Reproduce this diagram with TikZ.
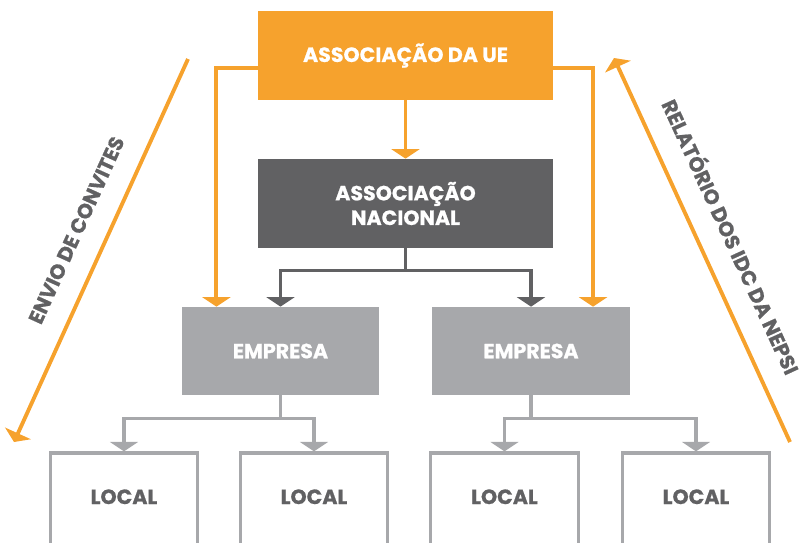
\documentclass[tikz,border=0pt]{standalone}
\usepackage{fontspec}
\setmainfont{Poppins}[BoldFeatures={FakeBold=0.8}]
\usetikzlibrary{arrows.meta,calc}

\definecolor{ueorange}{HTML}{F6A22D}
\definecolor{nacgrey}{HTML}{616163}
\definecolor{empgrey}{HTML}{A7A8AB}

\begin{document}
\begin{tikzpicture}[x=0.02cm, y=-0.02cm,
    box/.style={rectangle, inner sep=0pt, align=center, font=\bfseries\fontsize{11.7}{14}\selectfont},
    uebox/.style={box, fill=ueorange, text=white, minimum width=5.9cm, minimum height=1.78cm},
    nacbox/.style={box, fill=nacgrey, text=white, minimum width=5.9cm, minimum height=1.78cm},
    empbox/.style={box, fill=empgrey, text=white, minimum width=3.95cm, minimum height=1.76cm},
    localbox/.style={box, draw=empgrey, line width=1.9pt, fill=white, text=nacgrey,
      minimum width=2.95cm, minimum height=2.2cm, text height=0.3cm, text depth=0.46cm},
    tip/.style={-{Triangle[width=0.56cm, length=0.19cm]}},
    oarr/.style={tip, draw=ueorange, line width=2.2pt},
    darr/.style={tip, draw=nacgrey, line width=2pt},
    larr/.style={tip, draw=empgrey, line width=2pt},
    sidelabel/.style={sloped, text=nacgrey, inner sep=0pt, font=\bfseries\fontsize{11.7}{14}\selectfont}]

  \clip (0,0) rectangle (803,542);

  % boxes
  \node[uebox] (ue) at (405.5,55.5) {ASSOCIAÇÃO DA UE};
  \node[nacbox] (nac) at (405.5,203.5) {ASSOCIAÇÃO\\NACIONAL};
  \node[empbox] (emp1) at (280.5,351) {EMPRESA};
  \node[empbox] (emp2) at (531,351) {EMPRESA};

  \foreach \i/\x in {1/124, 2/314, 3/504.5, 4/696}{
    \node[localbox] (loc\i) at (\x,508) {LOCAL};
  }

  % ue -> nac, ue -> empresas
  \draw[oarr] (ue.south) -- (nac.north);
  \draw[oarr] ($(ue.west)+(0,12.5)$) -| ($(emp1.north west)+(35,0)$);
  \draw[oarr] ($(ue.east)+(0,12.5)$) -| ($(emp2.north east)+(-37,0)$);

  % nac -> empresas
  \coordinate (nacj) at ($(nac.south)+(0,22)$);
  \draw[darr] (nac.south) -- (nacj) -| (emp1.north);
  \draw[darr] (nacj) -| (emp2.north);

  % empresas -> locais
  \coordinate (emp1j) at ($(emp1.south)+(0,23)$);
  \coordinate (emp2j) at ($(emp2.south)+(0,23)$);
  \draw[larr] (emp1.south) -- (emp1j) -| (loc1.north);
  \draw[larr] (emp1j) -| (loc2.north);
  \draw[larr] (emp2.south) -- (emp2j) -| (loc3.north);
  \draw[larr] (emp2j) -| (loc4.north);

  % side flows
  \coordinate (convA) at (188,59);
  \coordinate (convB) at (14,442);
  \coordinate (relA) at (790,442);
  \coordinate (relB) at (614,58);
  \draw[oarr] (convA) -- node[sidelabel, pos=0.48, above=0.43cm] {ENVIO DE CONVITES} (convB);
  \draw[oarr] (relA) -- node[sidelabel, pos=0.5, above=0.43cm] {RELATÓRIO DOS IDC DA NEPSI} (relB);
\end{tikzpicture}
\end{document}
